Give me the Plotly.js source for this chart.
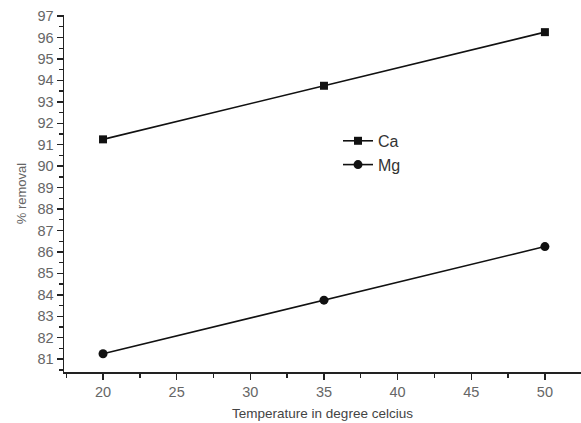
<!DOCTYPE html>
<html>
<head>
<meta charset="utf-8">
<script src="https://cdn.plot.ly/plotly-3.0.1.min.js"></script>
<style>html,body{margin:0;padding:0;background:#fff;}#chart{width:581px;height:423px;}</style>
</head>
<body>
<div id="chart"></div>
<script>
const temperature = [20, 35, 50];
const caRemoval = [91.25, 93.75, 96.25];
const mgRemoval = [81.25, 83.75, 86.25];
const seriesNames = ['Ca', 'Mg'];
const xTitle = 'Temperature in degree celcius';
const yTitle = '% removal';

const traces = [
  {x: temperature, y: caRemoval, name: seriesNames[0], type: 'scatter', mode: 'lines+markers',
   line: {color: '#111', width: 1.6}, marker: {symbol: 'square', size: 8, color: '#111'}},
  {x: temperature, y: mgRemoval, name: seriesNames[1], type: 'scatter', mode: 'lines+markers',
   line: {color: '#111', width: 1.6}, marker: {symbol: 'circle', size: 9, color: '#111'}}
];

const tickFont = {family: 'Liberation Sans, Arial, sans-serif', size: 14.5, color: '#666'};
const layout = {
  width: 581, height: 423,
  margin: {l: 64, r: 0, t: 15, b: 51},
  paper_bgcolor: '#fff', plot_bgcolor: '#fff',
  showlegend: true,
  legend: {x: 0.53, y: 0.695, xanchor: 'left', yanchor: 'top', bgcolor: 'rgba(0,0,0,0)',
           font: {family: 'Liberation Sans, Arial, sans-serif', size: 16, color: '#333'},
           tracegroupgap: 0, itemwidth: 30},
  xaxis: {
    range: [17.35, 52.45], tickmode: 'linear', tick0: 20, dtick: 5,
    showgrid: false, zeroline: false, showline: true, linecolor: '#222', linewidth: 1.5,
    ticks: 'outside', ticklen: 6, tickwidth: 1.5, tickcolor: '#222',
    minor: {dtick: 2.5, tick0: 20, ticks: 'outside', ticklen: 4, tickwidth: 1.3, tickcolor: '#222', showgrid: false},
    tickfont: tickFont,
    title: {text: xTitle, font: {family: 'Liberation Sans, Arial, sans-serif', size: 13.5, color: '#444'}, standoff: 9}
  },
  yaxis: {
    range: [80.4, 97.05], tickmode: 'linear', tick0: 81, dtick: 1,
    showgrid: false, zeroline: false, showline: true, linecolor: '#222', linewidth: 1.5,
    ticks: 'outside', ticklen: 6, tickwidth: 1.5, tickcolor: '#222',
    minor: {dtick: 0.5, tick0: 81, ticks: 'outside', ticklen: 4, tickwidth: 1.3, tickcolor: '#222', showgrid: false},
    tickfont: tickFont,
    title: {text: yTitle, font: {family: 'Liberation Sans, Arial, sans-serif', size: 13, color: '#666'}, standoff: 8}
  }
};
Plotly.newPlot('chart', traces, layout, {displayModeBar: false, staticPlot: true});
</script>
</body>
</html>
